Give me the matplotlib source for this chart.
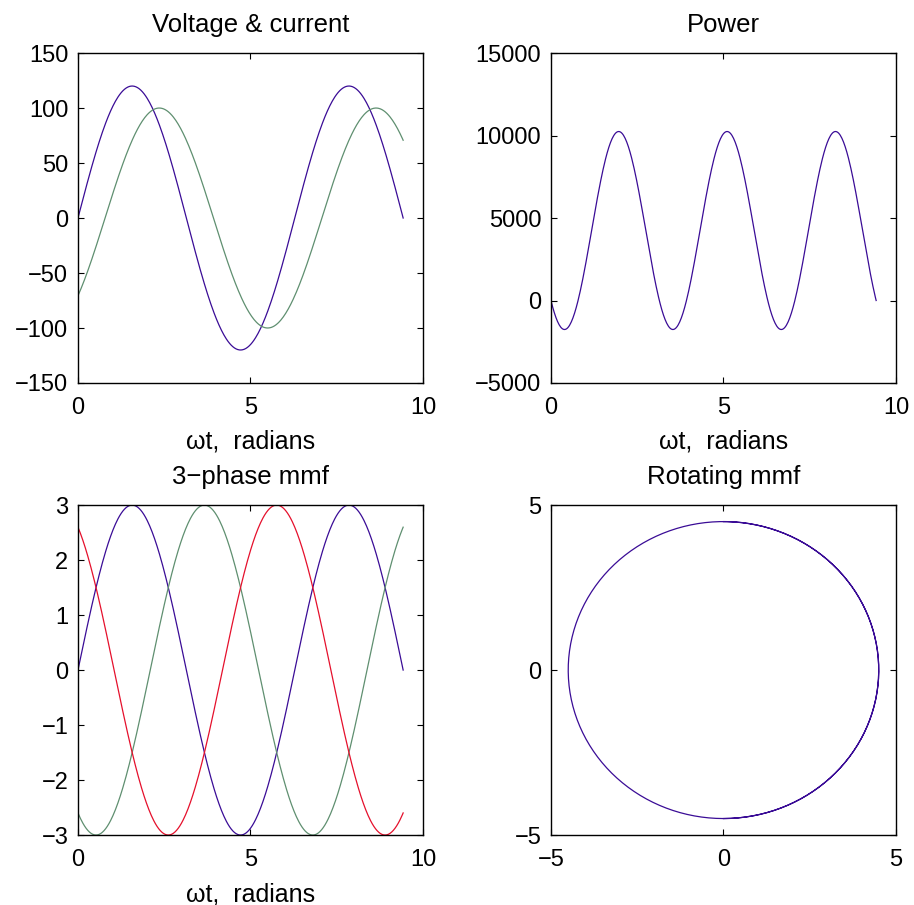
import numpy as np
import matplotlib.pyplot as plt

plt.rcParams['font.family'] = ['Liberation Sans', 'DejaVu Sans']
plt.rcParams['font.size'] = 17

# Single-phase source: peak values and current lag (rad)
v_peak = 120.0
i_peak = 100.0
i_lag = np.pi / 4

# Three-phase winding mmf: peak and phase shifts (rad)
mmf_peak = 3.0
phase_shift = [0.0, -2 * np.pi / 3, 2 * np.pi / 3]
phase_colors = ['#3a0c96', '#5f8f70', '#e5102c']

wt = np.linspace(0, 3 * np.pi, 400)

v = v_peak * np.sin(wt)
i = i_peak * np.sin(wt - i_lag)
p = v * i

mmf = [mmf_peak * np.sin(wt + ph) for ph in phase_shift]
# space vector sum of the three phase mmfs
space = sum(f * np.exp(1j * ang) for f, ang in zip(mmf, [0, 2 * np.pi / 3, 4 * np.pi / 3]))

fig = plt.figure(figsize=(9.14, 9.05), dpi=100)
w, h = 0.3775, 0.3646
ax1 = fig.add_axes([0.0853, 0.5768, w, h])
ax2 = fig.add_axes([0.6028, 0.5768, w, h])
ax3 = fig.add_axes([0.0853, 0.0773, w, h])
ax4 = fig.add_axes([0.6028, 0.0773, w, h])

lw = 0.9
ax1.plot(wt, v, color=phase_colors[0], lw=lw)
ax1.plot(wt, i, color=phase_colors[1], lw=lw)
ax1.set_xlim(0, 10)
ax1.set_ylim(-150, 150)
ax1.set_yticks(np.arange(-150, 151, 50))
ax1.set_title('Voltage & current')
ax1.set_xlabel('ωt,  radians')

ax2.plot(wt, p, color=phase_colors[0], lw=lw)
ax2.set_xlim(0, 10)
ax2.set_ylim(-5000, 15000)
ax2.set_yticks(np.arange(-5000, 15001, 5000))
ax2.set_title('Power')
ax2.set_xlabel('ωt,  radians')

for f, c in zip(mmf, phase_colors):
    ax3.plot(wt, f, color=c, lw=lw)
ax3.set_xlim(0, 10)
ax3.set_ylim(-3, 3)
ax3.set_yticks(np.arange(-3, 4, 1))
ax3.set_title('3\u2212phase mmf')
ax3.set_xlabel('ωt,  radians')

ax4.plot(space.real, space.imag, color=phase_colors[0], lw=lw)
ax4.set_xlim(-5, 5)
ax4.set_ylim(-5, 5)
ax4.set_xticks([-5, 0, 5])
ax4.set_yticks([-5, 0, 5])
ax4.set_title('Rotating mmf')

for ax in (ax1, ax2, ax3):
    ax.set_xticks([0, 5, 10])

for ax in (ax1, ax2, ax3, ax4):
    ax.tick_params(direction='in', length=4.5, width=0.8, top=True, right=True,
                   labelsize=17)
    ax.tick_params(axis='x', pad=10)
    ax.tick_params(axis='y', pad=7)
    for s in ax.spines.values():
        s.set_linewidth(1.0)
    ax.set_title(ax.get_title(), fontsize=18.5, pad=15)
    ax.xaxis.label.set_size(18)
    ax.xaxis.labelpad = 8

fig.savefig('out.png', dpi=100)
